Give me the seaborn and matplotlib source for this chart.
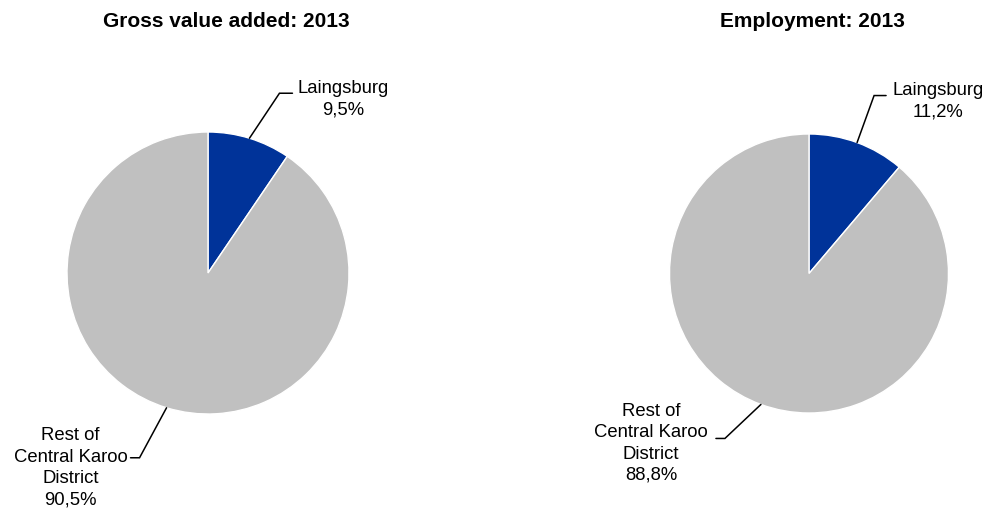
import numpy as np
import matplotlib
matplotlib.use("Agg")
import matplotlib.pyplot as plt
import seaborn as sns

# Shares of the Central Karoo District, 2013
titles = ["Gross value added: 2013", "Employment: 2013"]
categories = ["Laingsburg", "Rest of\nCentral Karoo\nDistrict"]
gva_share = [9.5, 90.5]
employment_share = [11.2, 88.8]
colors = ["#003399", "#C0C0C0"]

sns.set_style("white")
plt.rcParams["font.family"] = ["Liberation Sans", "DejaVu Sans"]

W, H = 985, 508
fig = plt.figure(figsize=(W / 100, H / 100), dpi=100)
ax = fig.add_axes([0, 0, 1, 1])
ax.set_xlim(0, W)
ax.set_ylim(0, H)
ax.set_aspect("equal")
ax.axis("off")


def fy(y):
    # convert a top-down pixel offset into axis y
    return H - y


# layout of each pie: centre, radius, title position and leader-line settings
# leader: elbow offset from the wedge edge, horizontal tail, gap to text,
#         text anchor and vertical shift of the label block
layouts = [
    dict(center=(208, 273), radius=141, title_x=226,
         leaders=[dict(elbow=(30, -45), tail=13, gap=5, ha="left", dy=6),
                  dict(elbow=(-27, 50), tail=-9, gap=-3, ha="right", dy=10)]),
    dict(center=(809, 273.5), radius=139.5, title_x=812,
         leaders=[dict(elbow=(17, -47), tail=12, gap=6, ha="left", dy=6),
                  dict(elbow=(-36, 34), tail=-9, gap=-8, ha="right", dy=5)]),
]

for title, shares, lay in zip(titles, [gva_share, employment_share], layouts):
    cx, cy = lay["center"]
    r = lay["radius"]
    wedges, _ = ax.pie(shares, colors=colors, startangle=90, counterclock=False,
                       center=(cx, fy(cy)), radius=r,
                       wedgeprops=dict(edgecolor="white", linewidth=1.0))
    ax.text(lay["title_x"], fy(27), title, ha="center", va="baseline",
            fontsize=15, fontweight="bold", color="black")

    for w, cat, val, ld in zip(wedges, categories, shares, lay["leaders"]):
        mid = np.deg2rad((w.theta1 + w.theta2) / 2)
        ex = cx + r * np.cos(mid)
        ey = fy(cy) + r * np.sin(mid)
        bx = ex + ld["elbow"][0]
        by = ey - ld["elbow"][1]
        tx = bx + ld["tail"]
        ax.plot([ex, bx, tx], [ey, by, by], color="black", lw=1.1,
                solid_joinstyle="miter")
        label = f"{cat}\n{val:.1f}".replace(".", ",") + "%"
        ax.text(tx + ld["gap"], by - ld["dy"], label, ha=ld["ha"], va="center",
                multialignment="center", fontsize=13.3, linespacing=1.33,
                color="black")

ax.set_xlim(0, W)
ax.set_ylim(0, H)
fig.savefig("out.png", dpi=100, facecolor="white")
